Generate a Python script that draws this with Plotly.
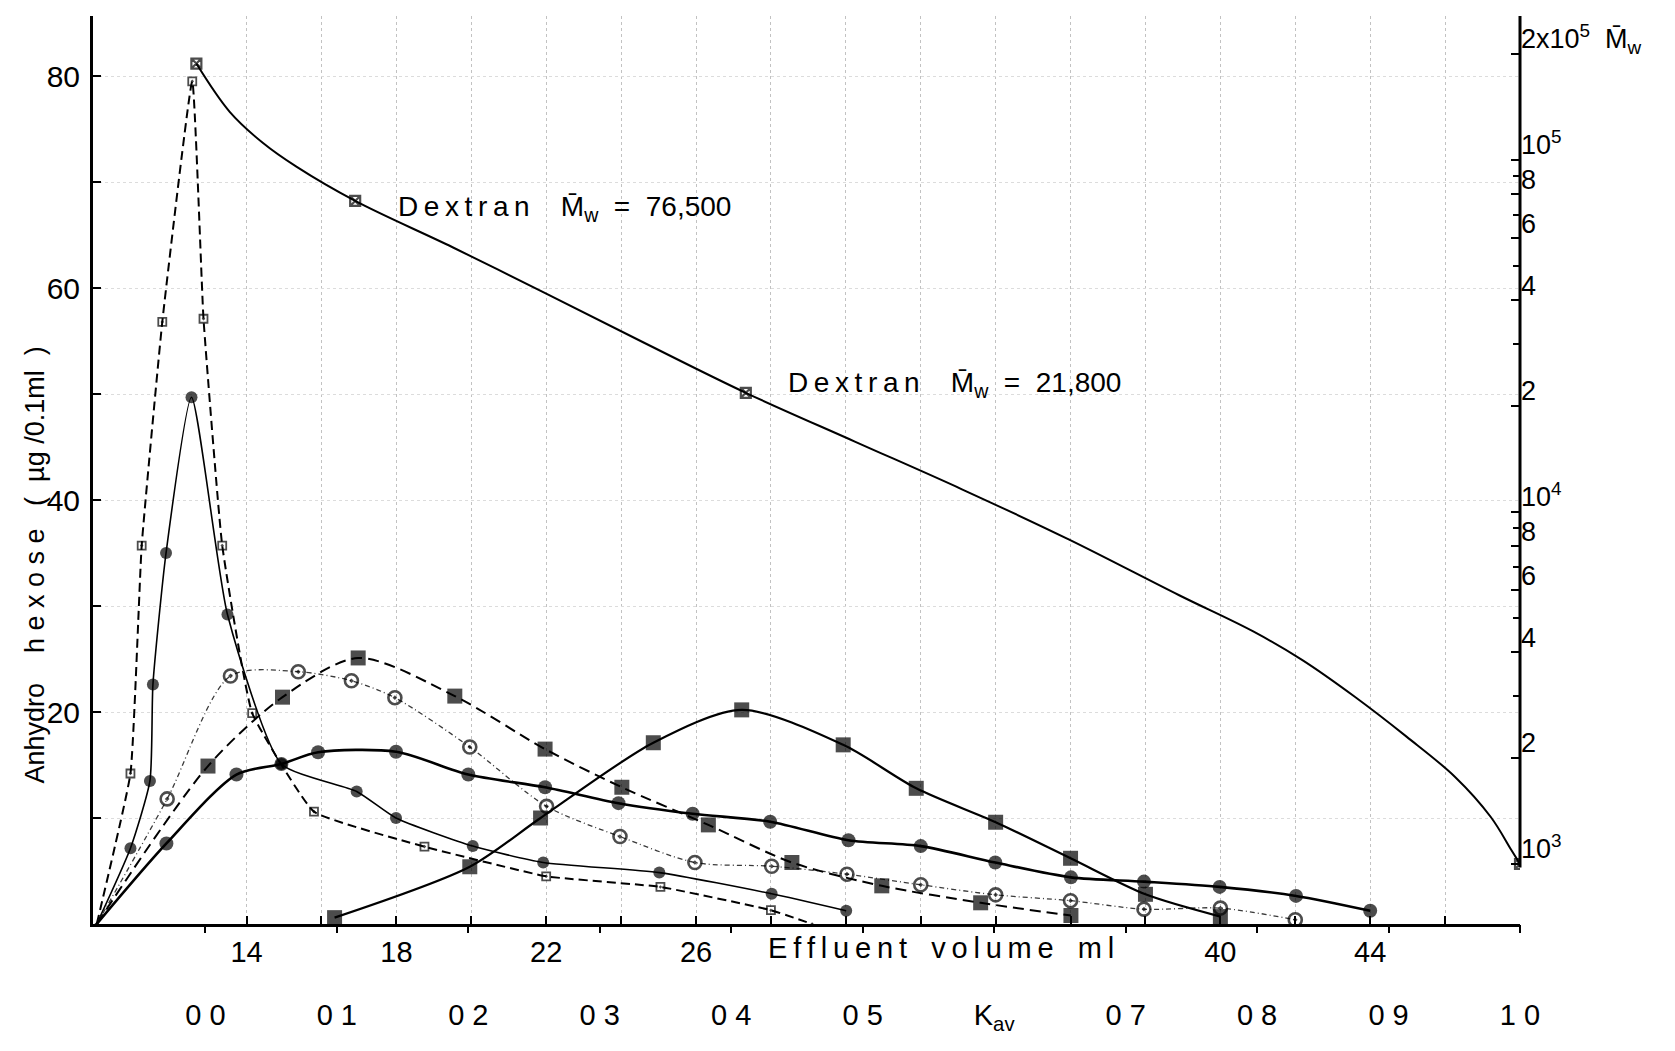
import math
import plotly.graph_objects as go

FONT = "Liberation Sans"
INK = "black"

# ---- gel bed constants (ml) -------------------------------------------
V_START = 9.9   # left end of the effluent-volume axis
V0 = 12.9       # void volume      -> Kav = 0
VT = 48.0       # total bed volume -> Kav = 1

# ---- dextran calibration curve (right-hand log axis, Mw) --------------
dex_vol = [12.66, 13.55, 14.44, 15.33, 16.9, 19.5, 22.0, 24.6, 27.33, 30.24,
           33.1, 35.95, 38.9, 40.89, 42.18, 43.58, 44.97, 46.26, 47.22, 47.76,
           48.0]
dex_mw = [187900, 137000, 111700, 95700, 76500, 56500, 41700, 30300, 21800,
          15850, 11600, 8360, 5800, 4570, 3800, 2990, 2300, 1770, 1360, 1100,
          1000]
dex_marked_vol = [12.66, 16.9, 27.33, 48.0]

# ---- elution profiles: anhydro hexose (ug / 0.1 ml) vs effluent volume ----
s1_vol = [10.0, 10.9, 11.2, 11.75, 12.55, 12.85, 13.35, 14.15, 15.8, 18.75,
          22.0, 25.05, 28.0, 29.1]
s1_val = [0, 14.2, 35.7, 56.8, 79.5, 57.1, 35.7, 19.9, 10.6, 7.3, 4.5, 3.5,
          1.3, 0]

s2_vol = [10.0, 10.9, 11.42, 11.5, 11.85, 12.53, 13.49, 14.93, 16.94, 17.99,
          20.04, 21.92, 25.02, 28.02, 30.01]
s2_val = [0, 7.15, 13.5, 22.6, 35.0, 49.7, 29.2, 15.1, 12.5, 10.0, 7.35, 5.8,
          4.85, 2.85, 1.25]

s3_vol = [10.0, 11.88, 13.57, 15.38, 16.8, 17.96, 19.96, 22.01, 23.97, 25.97,
          28.02, 30.03, 32.0, 34.0, 36.0, 37.96, 40.0, 42.0]
s3_val = [0, 11.8, 23.4, 23.8, 22.95, 21.35, 16.7, 11.1, 8.25, 5.8, 5.45, 4.7,
          3.7, 2.75, 2.2, 1.4, 1.5, 0.4]

s4_vol = [10.0, 12.97, 14.96, 16.98, 19.56, 21.97, 24.02, 26.33, 28.56, 30.96,
          33.6, 36.01]
s4_val = [0, 14.9, 21.4, 25.1, 21.5, 16.5, 12.9, 9.35, 5.8, 3.6, 2.0, 0.8]

s5_vol = [10.0, 11.86, 13.73, 14.93, 15.91, 17.99, 19.92, 21.97, 23.93, 25.91,
          27.98, 30.07, 32.0, 33.99, 36.01, 37.96, 39.98, 42.02, 44.0]
s5_val = [0, 7.6, 14.1, 15.1, 16.2, 16.25, 14.1, 12.9, 11.4, 10.4, 9.65, 7.9,
          7.35, 5.8, 4.4, 4.0, 3.5, 2.65, 1.25]

s6_vol = [16.35, 19.96, 21.85, 24.86, 27.22, 29.93, 31.88, 34.0, 36.0, 38.0,
          40.0]
s6_val = [0.6, 5.4, 10.0, 17.1, 20.2, 16.9, 12.8, 9.6, 6.2, 2.8, 0.7]

# ---- axis labels -------------------------------------------------------
ml_labelled = [14, 18, 22, 26, 40, 44]
ml_minor = [16, 20, 24, 28, 30, 32, 34, 36, 38, 42, 46]
kav_ticks = [round(0.1 * i, 1) for i in range(11)]
kav_text = ["0 0", "0 1", "0 2", "0 3", "0 4", "0 5", "K<sub>av</sub>",
            "0 7", "0 8", "0 9", "1 0"]
hexose_labelled = [20, 40, 60, 80]
hexose_minor = [10, 30, 50, 70]
mw_labelled = [1000, 2000, 4000, 6000, 8000, 10000, 20000, 40000, 60000,
               80000, 100000, 200000]
mw_text = ["10<sup>3</sup>", "2", "4", "6", "8", "10<sup>4</sup>", "2", "4",
           "6", "8", "10<sup>5</sup>", "2x10<sup>5</sup>  M\u0304<sub>w</sub>"]
mw_minor = [3000, 5000, 7000, 9000, 30000, 50000, 70000, 90000]

Y_TOP = 85.66
MW_LOG_RANGE = [2.8295, 5.409]


def spaced(word, gap="\u2009"):
    """Letter-spaced lettering, as on the stencilled original."""
    return gap.join(word)


def marker_sizes(values, size):
    # no marker where a trace starts or ends on the baseline
    return [0 if v == 0 else size for v in values]


fig = go.Figure()

profiles = [
    dict(x=s1_vol, y=s1_val, dash="9px,5px", width=2, color=INK,
         symbol="square-open-dot", size=8, mline=1.8, smooth=0.35),
    dict(x=s2_vol, y=s2_val, dash="solid", width=1.6, color=INK,
         symbol="circle", size=12, mline=0, smooth=0.55),
    dict(x=s3_vol, y=s3_val, dash="5px,3px,1px,3px", width=1.3, color="#3a3a3a",
         symbol="circle-open-dot", size=13, mline=2.6, smooth=0.8),
    dict(x=s4_vol, y=s4_val, dash="11px,6px", width=2, color=INK,
         symbol="square", size=15, mline=0, smooth=0.8),
    dict(x=s5_vol, y=s5_val, dash="solid", width=2.6, color=INK,
         symbol="circle", size=14, mline=0, smooth=0.8),
    dict(x=s6_vol, y=s6_val, dash="solid", width=2.2, color=INK,
         symbol="square", size=15, mline=0, smooth=0.8),
]
for p in profiles:
    fig.add_trace(go.Scatter(
        x=p["x"], y=p["y"], mode="lines+markers", xaxis="x", yaxis="y",
        line=dict(color=p["color"], width=p["width"], dash=p["dash"],
                  shape="spline", smoothing=p["smooth"]),
        marker=dict(symbol=p["symbol"], size=marker_sizes(p["y"], p["size"]),
                    color=INK, line=dict(color=INK, width=p["mline"])),
        hoverinfo="x+y",
    ))

# dextran calibration on the molecular-weight axis
fig.add_trace(go.Scatter(
    x=dex_vol, y=dex_mw, mode="lines+markers", xaxis="x", yaxis="y2",
    line=dict(color=INK, width=2, shape="spline", smoothing=1.0),
    marker=dict(symbol="square-x-open",
                size=[10 if v in dex_marked_vol else 0 for v in dex_vol],
                color=INK, line=dict(color=INK, width=2.2)),
    hoverinfo="x+y",
))

# invisible trace to switch on the Kav scale
fig.add_trace(go.Scatter(x=[0, 1], y=[0, 0], xaxis="x2", yaxis="y",
                         mode="markers", marker=dict(size=0, opacity=0),
                         hoverinfo="skip"))

kav_lo = (V_START - V0) / (VT - V0)
kav_hi = (VT - V0) / (VT - V0)

GRID_V = dict(showgrid=True, gridcolor="#c2c2c2", gridwidth=1, griddash="dot")
GRID_H = dict(showgrid=True, gridcolor="#dcdcdc", gridwidth=1, griddash="dot")

fig.update_layout(
    width=1675, height=1051,
    margin=dict(l=93, r=155, t=16, b=127),
    paper_bgcolor="white", plot_bgcolor="white",
    showlegend=False,
    font=dict(family=FONT, size=28, color=INK),
    xaxis=dict(
        range=[V_START, VT], tickvals=ml_labelled,
        ticktext=[str(t) for t in ml_labelled],
        ticks="inside", ticklen=8, tickwidth=2, tickcolor=INK,
        minor=dict(tickvals=ml_minor, ticks="inside", ticklen=8, tickwidth=2,
                   tickcolor=INK, **GRID_V),
        showline=True, linewidth=3, linecolor=INK,
        zeroline=False, tickfont=dict(size=29), **GRID_V,
    ),
    xaxis2=dict(
        overlaying="x", anchor="y", side="bottom",
        range=[kav_lo, kav_hi], tickvals=kav_ticks, ticktext=kav_text,
        ticks="outside", ticklen=8, tickwidth=2, tickcolor=INK,
        showline=False, showgrid=False, zeroline=False,
        ticklabelstandoff=57, tickfont=dict(size=29),
    ),
    yaxis=dict(
        range=[0, Y_TOP], tickvals=hexose_labelled,
        ticktext=[str(t) for t in hexose_labelled],
        ticks="inside", ticklen=8, tickwidth=2, tickcolor=INK,
        minor=dict(tickvals=hexose_minor, ticks="inside", ticklen=8,
                   tickwidth=2, tickcolor=INK, **GRID_H),
        showline=True, linewidth=3, linecolor=INK,
        zeroline=False, tickfont=dict(size=30), ticklabelstandoff=4, **GRID_H,
    ),
    yaxis2=dict(
        type="log", overlaying="y", side="right", anchor="x",
        range=MW_LOG_RANGE, tickvals=mw_labelled, ticktext=mw_text,
        ticks="inside", ticklen=9, tickwidth=2, tickcolor=INK,
        minor=dict(tickvals=mw_minor, ticks="inside", ticklen=7, tickwidth=2,
                   tickcolor=INK, showgrid=False),
        showline=False, showgrid=False, zeroline=False,
        ticklabelshift=-15, tickfont=dict(size=27),
    ),
)

# right-hand Mw axis runs from 10^3 upwards
fig.add_shape(type="line", xref="paper", yref="paper", x0=1, x1=1,
              y0=(3 - MW_LOG_RANGE[0]) / (MW_LOG_RANGE[1] - MW_LOG_RANGE[0]) - 0.004,
              y1=1, line=dict(color=INK, width=3))

annotations = [
    dict(text="Anhydro    " + spaced("hexose", " ") + "   (  µg /0.1ml  )",
         xref="paper", yref="paper", x=-0.0405, y=0.395, textangle=-90,
         showarrow=False, font=dict(size=27), xanchor="center", yanchor="middle"),
    dict(text=spaced("Effluent") + "   " + spaced("volume") + "   " + spaced("ml"),
         xref="x", yref="paper", x=32.55, y=0, yanchor="top", yshift=-6,
         showarrow=False, font=dict(size=29)),
    dict(text=spaced("Dextran") + "    M\u0304<sub>w</sub>  =  76,500",
         xref="x", yref="y2", x=18.0, y=math.log10(72600), xanchor="left",
         yanchor="middle", showarrow=False, font=dict(size=28)),
    dict(text=spaced("Dextran") + "    M\u0304<sub>w</sub>  =  21,800",
         xref="x", yref="y2", x=28.4, y=math.log10(23000), xanchor="left",
         yanchor="middle", showarrow=False, font=dict(size=28)),
]
fig.update_layout(annotations=annotations)

fig.write_html("out.html")
